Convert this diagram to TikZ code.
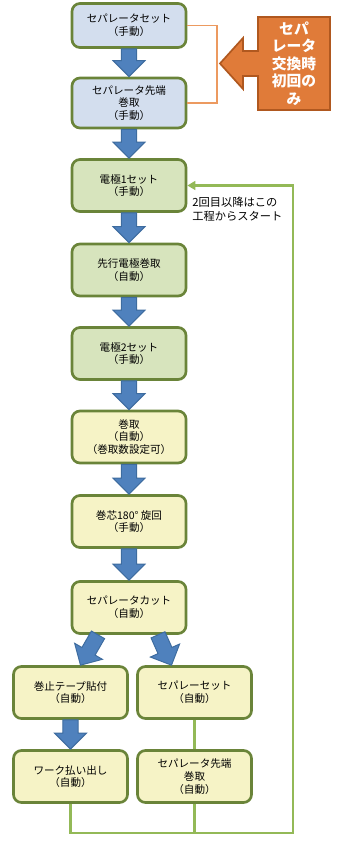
\documentclass[tikz,border=0pt]{standalone}
\usepackage{fontspec}
\setmainfont{Noto Sans CJK JP}
\usetikzlibrary{calc,arrows.meta}

\definecolor{boxblue}{HTML}{D3DEEE}
\definecolor{boxgreen}{HTML}{D7E4BD}
\definecolor{boxyellow}{HTML}{F6F3C6}
\definecolor{boxline}{HTML}{6A8439}
\definecolor{arrowfill}{HTML}{4F81BD}
\definecolor{arrowline}{HTML}{3E6C9F}
\definecolor{loopgreen}{HTML}{93B957}
\definecolor{calloutfill}{HTML}{E07B39}
\definecolor{calloutline}{HTML}{B0581F}
\definecolor{bracketorange}{HTML}{EC9A60}

\tikzset{
  process/.style={draw=boxline, line width=1.9pt, rounded corners=0.2cm,
    minimum width=2.85cm, minimum height=1.3cm, inner sep=1pt,
    align=center, font=\fontsize{7.5}{9}\selectfont},
  flow arrow/.style={fill=arrowfill, draw=arrowline, line width=0.7pt},
  loop line/.style={draw=loopgreen, line width=1.5pt},
  bracket line/.style={draw=bracketorange, line width=1.3pt},
  callout/.style={fill=calloutfill, draw=calloutline, line width=1.2pt},
}

% block arrow from #1 to #2
\newcommand{\flowarrow}[2]{%
  \coordinate (fa-h) at ($(#2)!0.4cm!(#1)$);
  \draw[flow arrow] ($(#1)!0.19cm!90:(#2)$) -- ($(fa-h)!0.19cm!90:(#2)$)
    -- ($(fa-h)!0.4cm!90:(#2)$) -- (#2) -- ($(fa-h)!0.4cm!-90:(#2)$)
    -- ($(fa-h)!0.19cm!-90:(#2)$) -- ($(#1)!0.19cm!-90:(#2)$) -- cycle;
}

\begin{document}
\begin{tikzpicture}[x=0.025cm, y=-0.025cm]
\useasboundingbox (0,0) rectangle (350,845);

% Process boxes
\node[process, fill=boxblue, minimum height=1.1cm] (sepset1) at (129,25.5) {セパレータセット\\（手動）};
\node[process, fill=boxblue, minimum height=1.25cm] (sepwind1) at (129,103) {セパレータ先端\\巻取\\（手動）};
\node[process, fill=boxgreen] (elec1) at (129,185.5) {電極1セット\\（手動）};
\node[process, fill=boxgreen] (leadwind) at (129,270) {先行電極巻取\\（自動）};
\node[process, fill=boxgreen] (elec2) at (129,353.5) {電極2セット\\（手動）};
\node[process, fill=boxyellow] (wind) at (129,437) {巻取\\（自動）\\（巻取数設定可）};
\node[process, fill=boxyellow] (turn) at (129,521.5) {巻芯180° 旋回\\（手動）};
\node[process, fill=boxyellow] (cut) at (129,607.5) {セパレータカット\\（自動）};
\node[process, fill=boxyellow] (tape) at (70.5,692.5) {巻止テープ貼付\\（自動）};
\node[process, fill=boxyellow] (sepset2) at (194.5,692.5) {セパレーセット\\（自動）};
\node[process, fill=boxyellow] (eject) at (70.5,776.5) {ワーク払い出し\\（自動）};
\node[process, fill=boxyellow] (sepwind2) at (194.5,776.5) {セパレータ先端\\巻取\\（自動）};

% Main flow
\flowarrow{sepset1.south}{sepwind1.north}
\flowarrow{sepwind1.south}{elec1.north}
\flowarrow{elec1.south}{leadwind.north}
\flowarrow{leadwind.south}{elec2.north}
\flowarrow{elec2.south}{wind.north}
\flowarrow{wind.south}{turn.north}
\flowarrow{turn.south}{cut.north}
\flowarrow{tape.south}{eject.north}

% Branches after the cut
\coordinate (cutL) at ($(cut.south)+(-31,0)$);
\coordinate (cutR) at ($(cut.south)+(29,0)$);
\coordinate (tapeT) at ($(tape.north)+(10,0)$);
\coordinate (sepT) at ($(sepset2.north)+(-23,0)$);
\flowarrow{cutL}{tapeT}
\flowarrow{cutR}{sepT}

% Return line
\coordinate (loopcorner) at (293,833);
\draw[loop line] (sepset2.south) -- (sepwind2.north);
\draw[loop line] (sepwind2.south) -- (sepwind2.south |- loopcorner);
\draw[loop line, -{Triangle[length=0.2cm,width=0.22cm]}] (eject.south) |- (loopcorner) |- (elec1.east);
\node[anchor=west, align=left, font=\fontsize{8}{10}\selectfont, inner sep=0pt] (restart) at (192,209.5) {2回目以降はこの\\工程からスタート};

% First time only
\coordinate (brk) at (217,0);
\draw[bracket line] (sepset1.east) -- (sepset1.east -| brk) -- (sepwind1.east -| brk) -- (sepwind1.east);
\draw[callout] (330,17) -- (258,17) -- (258,51) -- (243,51) -- (243,38) -- (220,63.5)
  -- (243,89) -- (243,76) -- (258,76) -- (258,110) -- (330,110) -- cycle;
\node[align=center, text=white, font=\fontsize{10.5}{12.5}\selectfont\bfseries] (firstonly) at (294,63.5) {セパ\\レータ\\交換時\\初回の\\み};
\end{tikzpicture}
\end{document}
